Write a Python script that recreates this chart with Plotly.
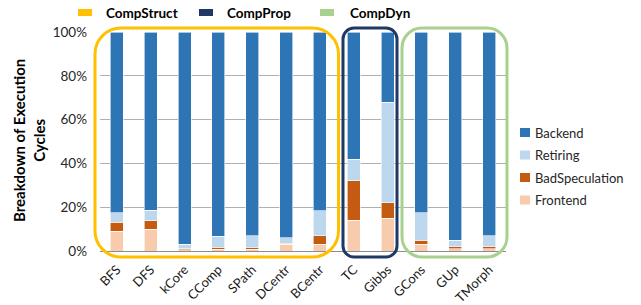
import plotly.graph_objects as go

categories = ["BFS", "DFS", "kCore", "CComp", "SPath", "DCentr", "BCentr",
              "TC", "Gibbs", "GCons", "GUp", "TMorph"]
frontend = [9.1, 10.0, 0.5, 0.8, 0.8, 3.0, 3.0, 14.0, 15.0, 3.0, 1.0, 1.0]
bad_spec = [4.0, 3.8, 0.5, 1.0, 1.0, 0.6, 4.0, 18.0, 7.0, 2.0, 1.0, 1.0]
retiring = [4.3, 4.9, 2.0, 5.0, 5.1, 2.4, 11.3, 10.0, 46.0, 12.4, 3.0, 4.9]
backend = [100 - f - b - r for f, b, r in zip(frontend, bad_spec, retiring)]
y_ticks = [0, 20, 40, 60, 80, 100]
y_tick_labels = ["0%", "20%", "40%", "60%", "80%", "100%"]
series_names = ["Frontend", "BadSpeculation", "Retiring", "Backend"]
series_colors = ["#F8CBAD", "#C55A11", "#BDD7EE", "#2E75B6"]
groups = ["CompStruct", "CompProp", "CompDyn"]
group_colors = ["#FFC000", "#203864", "#A9D18E"]

W, H = 641, 305
L, R, T, B = 100, 135, 32, 54
PW, PH = W - L - R, H - T - B
FONT = "Lato"


def px(x):
    return (x - L) / PW


def py(y):
    return (H - B - y) / PH


def rounded_path(x0, y0, x1, y1, r):
    k = 0.5523 * r

    def P(x, y):
        return f"{px(x):.5f},{py(y):.5f}"
    d = f"M {P(x0 + r, y0)} L {P(x1 - r, y0)} "
    d += f"C {P(x1 - r + k, y0)} {P(x1, y0 + r - k)} {P(x1, y0 + r)} "
    d += f"L {P(x1, y1 - r)} "
    d += f"C {P(x1, y1 - r + k)} {P(x1 - r + k, y1)} {P(x1 - r, y1)} "
    d += f"L {P(x0 + r, y1)} "
    d += f"C {P(x0 + r - k, y1)} {P(x0, y1 - r + k)} {P(x0, y1 - r)} "
    d += f"L {P(x0, y0 + r)} "
    d += f"C {P(x0, y0 + r - k)} {P(x0 + r - k, y0)} {P(x0 + r, y0)} Z"
    return d


fig = go.Figure()
for name, vals, col in zip(series_names, [frontend, bad_spec, retiring, backend], series_colors):
    fig.add_trace(go.Bar(x=categories, y=vals, name=name, showlegend=False,
                         marker=dict(color=col, line=dict(color="white", width=0.6))))

shapes = []
annotations = []
boxes = [(95, 28, 338.5, 257, 26, group_colors[0]),
         (343, 28, 397, 257, 11, group_colors[1]),
         (402, 28, 507, 257, 20, group_colors[2])]
for x0, y0, x1, y1, r, c in boxes:
    shapes.append(dict(type="path", xref="paper", yref="paper",
                       path=rounded_path(x0, y0, x1, y1, r),
                       line=dict(color=c, width=3), layer="above"))

# group legend on top
gl = [(78, 104), (199, 225), (320, 348)]
for (sx, tx), g, c in zip(gl, groups, group_colors):
    shapes.append(dict(type="rect", xref="paper", yref="paper",
                       x0=px(sx), x1=px(sx + 14), y0=py(9), y1=py(16),
                       fillcolor=c, line=dict(width=0)))
    annotations.append(dict(text=f"<b>{g}</b>", xref="paper", yref="paper",
                            x=px(tx), y=py(12.5), xanchor="left", yanchor="middle",
                            showarrow=False, font=dict(size=13.5, color="black", family=FONT)))

# series legend on right (top to bottom: Backend, Retiring, BadSpeculation, Frontend)
for i, (name, col) in enumerate(zip(series_names[::-1], series_colors[::-1])):
    cy = 132.5 + 22.5 * i
    shapes.append(dict(type="rect", xref="paper", yref="paper",
                       x0=px(520), x1=px(530), y0=py(cy - 4.5), y1=py(cy + 4.5),
                       fillcolor=col, line=dict(width=0)))
    annotations.append(dict(text=name, xref="paper", yref="paper",
                            x=px(533), y=py(cy), xanchor="left", yanchor="middle",
                            showarrow=False, font=dict(size=13, color="#262626", family=FONT)))

annotations.append(dict(text="<b>Breakdown of Execution<br>Cycles</b>", xref="paper", yref="paper",
                        x=px(29), y=py(141), xanchor="center", yanchor="middle",
                        textangle=-90, showarrow=False,
                        font=dict(size=15, color="black", family=FONT)))

fig.update_layout(
    width=W, height=H,
    margin=dict(l=L, r=R, t=T, b=B, autoexpand=False),
    barmode="stack", bargap=0.62,
    plot_bgcolor="white", paper_bgcolor="white",
    font=dict(family=FONT, size=12, color="#262626"),
    shapes=shapes, annotations=annotations,
    showlegend=False,
)
fig.update_yaxes(range=[0, 100], tickvals=y_ticks, ticktext=y_tick_labels,
                 showgrid=True, gridcolor="#B0B0B0", gridwidth=1,
                 zeroline=False, ticks="", ticklabelstandoff=12,
                 tickfont=dict(size=13.5, family=FONT, color="#262626"))
fig.update_xaxes(tickangle=-45, showline=True, linecolor="#8C8C8C", linewidth=1,
                 ticks="", ticklabelstandoff=5,
                 tickfont=dict(size=13, family=FONT, color="#1a1a1a"))

fig.write_html("out.html", config={"displayModeBar": False},
               post_script="document.body.style.margin='0';")
